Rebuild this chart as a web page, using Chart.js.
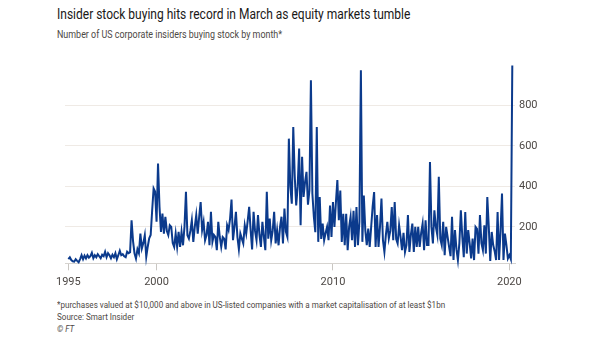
<!DOCTYPE html>
<html lang="en">
<head>
    <meta charset="UTF-8">
    <title>Insider stock buying hits record in March as equity markets tumble</title>
    <script src="https://cdn.jsdelivr.net/npm/chart.js"></script>
    <style>
        body {
            margin: 0;
            background-color: #ffffff;
            font-family: 'Roboto', sans-serif;
            color: #33302e;
        }
        .page {
            position: relative;
            width: 605px;
            height: 341px;
            overflow: hidden;
        }
        /* text is narrowed a bit to get a condensed look */
        .title, .subtitle, .notes {
            position: absolute;
            left: 57px;
            white-space: nowrap;
            transform-origin: left top;
        }
        .title {
            top: 5px;
            font-size: 15px;
            line-height: 18px;
            color: #1a1817;
            transform: scaleX(0.8);
        }
        .subtitle {
            top: 28px;
            font-size: 10.5px;
            line-height: 14px;
            color: #4d4845;
            transform: scaleX(0.85);
        }
        .notes {
            top: 299px;
            font-size: 9.5px;
            line-height: 12px;
            color: #4d4845;
            transform: scaleX(0.85);
        }
        .notes em { font-style: italic; }
        #chart-box {
            position: absolute;
            left: 0;
            top: 50px;
            width: 605px;
            height: 245px;
        }
    </style>
</head>
<body>
<div class="page">
    <div class="title">Insider stock buying hits record in March as equity markets tumble</div>
    <div class="subtitle">Number of US corporate insiders buying stock by month*</div>
    <div id="chart-box">
        <canvas id="insiderChart" width="605" height="245"></canvas>
    </div>
    <div class="notes">
        *purchases valued at $10,000 and above in US-listed companies with a market capitalisation of at least $1bn<br>
        Source: Smart Insider<br>
        <em>© FT</em>
    </div>
</div>

<script>
    // monthly series, Jan 1995 to Mar 2020
    const startYear = 1995;
    const insiderBuyers = [
        41, 50, 36, 30, 28, 40, 32, 25, 41, 60, 40, 58,         // 1995
        44, 60, 48, 55, 72, 45, 60, 50, 65, 55, 45, 62,         // 1996
        55, 77, 50, 70, 60, 45, 62, 50, 70, 40, 60, 82,         // 1997
        60, 65, 55, 50, 77, 70, 75, 233, 130, 70, 44, 90,       // 1998
        70, 167, 93, 120, 159, 52, 102, 143, 160, 280, 390, 375, // 1999
        225, 513, 300, 175, 266, 167, 250, 180, 159, 208, 200, 120, // 2000
        101, 167, 101, 175, 101, 175, 109, 200, 373, 159, 142, 180, // 2001
        233, 126, 200, 258, 167, 250, 323, 184, 225, 134, 160, 225, // 2002
        109, 274, 126, 160, 150, 85, 225, 150, 101, 150, 142, 89,   // 2003
        208, 184, 240, 335, 134, 200, 274, 150, 89, 167, 142, 118,  // 2004
        208, 167, 230, 299, 184, 89, 274, 180, 134, 258, 160, 101,  // 2005
        225, 150, 85, 373, 142, 241, 134, 180, 274, 118, 184, 109,  // 2006
        200, 250, 118, 290, 175, 150, 636, 400, 315, 694, 450, 306, // 2007
        400, 587, 208, 546, 348, 420, 472, 310, 380, 925, 365, 250, // 2008
        174, 694, 126, 348, 140, 216, 134, 170, 200, 134, 306, 150, // 2009
        323, 200, 320, 431, 233, 380, 126, 265, 110, 265, 85, 200,  // 2010
        250, 134, 280, 101, 298, 110, 225, 974, 126, 355, 184, 110, // 2011
        192, 101, 200, 300, 372, 101, 258, 101, 200, 340, 134, 76,  // 2012
        160, 225, 142, 180, 298, 134, 323, 140, 118, 208, 150, 85,  // 2013
        170, 76, 110, 258, 76, 160, 216, 76, 200, 101, 200, 101,    // 2014
        170, 216, 85, 233, 110, 110, 521, 200, 118, 282, 200, 160,  // 2015
        447, 142, 110, 225, 60, 200, 150, 101, 55, 250, 36, 184,    // 2016
        90, 36, 120, 282, 150, 50, 273, 68, 184, 120, 44, 142,      // 2017
        36, 200, 190, 68, 258, 120, 85, 208, 68, 348, 200, 31,      // 2018
        175, 110, 80, 36, 273, 36, 180, 365, 36, 167, 110, 44,      // 2019
        60, 40, 998                                                  // 2020
    ];
    const yearTicks = [1995, 2000, 2010, 2020];
    const valueTicks = [200, 400, 600, 800];

    Chart.defaults.font.family = "'Roboto', sans-serif";

    const points = insiderBuyers.map((v, i) => ({ x: startYear + i / 12, y: v }));

    const ctx = document.getElementById('insiderChart').getContext('2d');
    new Chart(ctx, {
        type: 'line',
        data: {
            datasets: [{
                data: points,
                borderColor: '#0b3a8c',
                borderWidth: 2,
                pointRadius: 0,
                tension: 0,
                clip: false
            }]
        },
        options: {
            responsive: false,
            animation: false,
            devicePixelRatio: 1,
            layout: { padding: { left: 65, top: 15, right: 0, bottom: 0 } },
            plugins: {
                legend: { display: false },
                tooltip: { enabled: false }
            },
            scales: {
                x: {
                    type: 'linear',
                    min: 1994.81,
                    max: 2020.32,
                    afterBuildTicks: (scale) => {
                        scale.ticks = yearTicks.map(v => ({ value: v }));
                    },
                    afterFit: (scale) => { scale.height = 31.7; },
                    grid: {
                        drawOnChartArea: false,
                        tickLength: 7,
                        color: '#c9c6c2'
                    },
                    border: { display: true, color: '#d6d3cf' },
                    ticks: {
                        autoSkip: false,
                        maxRotation: 0,
                        padding: 5,
                        color: '#4d4845',
                        font: { size: 11 },
                        callback: (v) => String(v)
                    }
                },
                y: {
                    position: 'right',
                    min: 20,
                    max: 1000,
                    afterBuildTicks: (scale) => {
                        scale.ticks = valueTicks.map(v => ({ value: v }));
                    },
                    afterFit: (scale) => { scale.width = 90; },
                    grid: {
                        color: '#efeae5',
                        drawTicks: false
                    },
                    border: { display: false },
                    ticks: {
                        padding: 4,
                        color: '#4d4845',
                        font: { size: 11 },
                        callback: (v) => String(v)
                    }
                }
            }
        }
    });
</script>
</body>
</html>
